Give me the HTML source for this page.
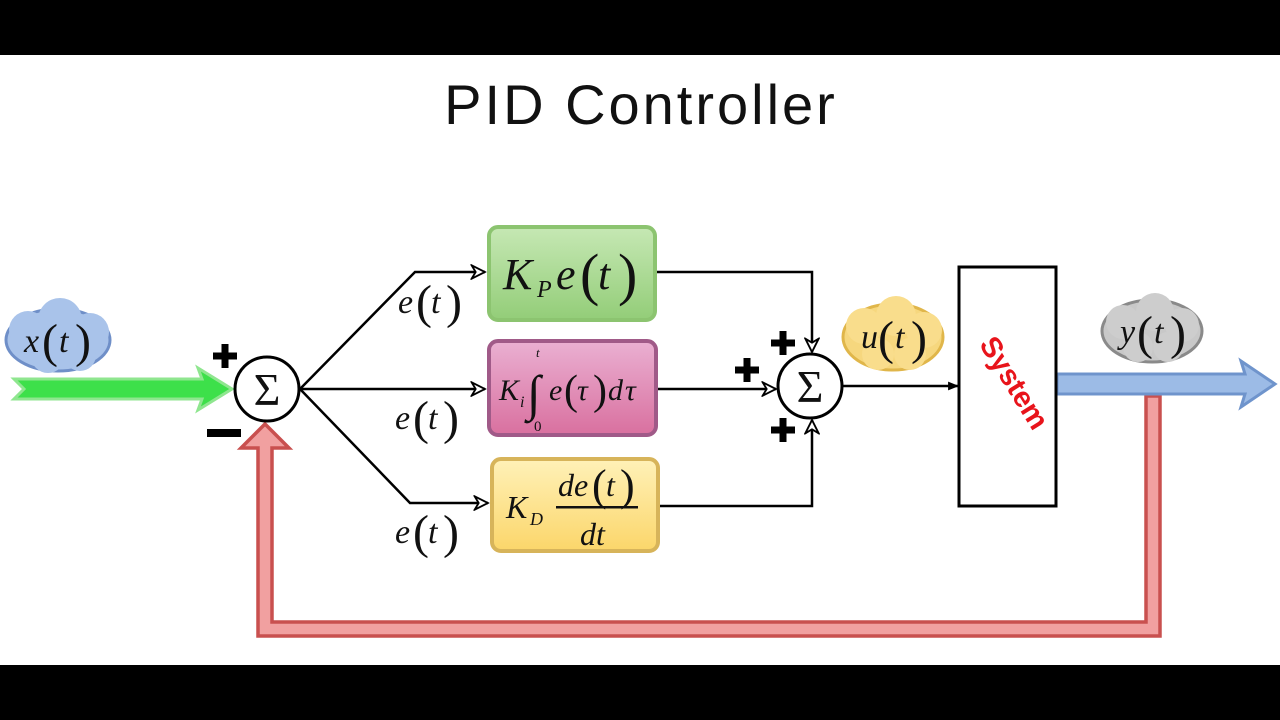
<!DOCTYPE html>
<html><head><meta charset="utf-8"><style>
html,body{margin:0;padding:0;background:#fff}
svg{display:block}
.m{font-family:"Liberation Serif",serif;font-style:italic;fill:#111}
.r{font-family:"Liberation Serif",serif;fill:#111}
</style></head><body>
<svg width="1280" height="720" viewBox="0 0 1280 720" xmlns="http://www.w3.org/2000/svg">
<defs>
<marker id="oa" viewBox="0 0 12 12" refX="11" refY="6" markerWidth="16" markerHeight="16" markerUnits="userSpaceOnUse" orient="auto"><path d="M1,1 L11,6 L1,11 L4,6 Z" fill="#fff" stroke="#000" stroke-width="1.4"/></marker>
<marker id="fa" viewBox="0 0 10 10" refX="9" refY="5" markerWidth="11" markerHeight="11" markerUnits="userSpaceOnUse" orient="auto"><path d="M0,1 L10,5 L0,9 Z" fill="#000"/></marker>
<linearGradient id="gg" x1="0" y1="0" x2="0" y2="1"><stop offset="0" stop-color="#c6e8b4"/><stop offset="1" stop-color="#93cd78"/></linearGradient>
<linearGradient id="gp" x1="0" y1="0" x2="0" y2="1"><stop offset="0" stop-color="#eab0d2"/><stop offset="1" stop-color="#d9709f"/></linearGradient>
<linearGradient id="gy" x1="0" y1="0" x2="0" y2="1"><stop offset="0" stop-color="#fff1b8"/><stop offset="1" stop-color="#fbd66a"/></linearGradient>
</defs>
<rect x="0" y="0" width="1280" height="55" fill="#000"/>
<rect x="0" y="665" width="1280" height="55" fill="#000"/>
<text x="641" y="124" text-anchor="middle" font-family="Liberation Sans,sans-serif" font-size="56" letter-spacing="3" fill="#111">PID Controller</text>

<!-- x(t) cloud -->
<g fill="#a9c3ea" stroke="#6f8fc8" stroke-width="3">
<ellipse cx="58" cy="340" rx="52" ry="31"/>
</g>
<g fill="#a9c3ea">
<circle cx="28" cy="330" r="19"/><circle cx="60" cy="320" r="22"/><circle cx="90" cy="332" r="19"/><circle cx="48" cy="356" r="17"/><circle cx="80" cy="355" r="16"/>
</g>
<text x="24" y="352" class="m" font-size="34">x</text><text x="42" y="357" class="r" font-size="48">(</text><text x="59" y="352" class="m" font-size="34">t</text><text x="75" y="357" class="r" font-size="48">)</text>

<!-- green arrow -->
<path d="M14,379 L202,379 L198,368 L232,389 L198,410 L202,399 L14,399 L24,389 Z" fill="#3de04a" stroke="#8fe68f" stroke-width="3"/>

<!-- red feedback -->
<path d="M1146,396 L1160,396 L1160,636 L258,636 L258,448 L241,448 L265,424 L289,448 L272,448 L272,622 L1146,622 Z" fill="#f1a0a0" stroke="#c9504f" stroke-width="3.5"/>

<!-- blue arrow -->
<path d="M1057,374 L1245,374 L1241,361 L1275,384 L1241,407 L1245,394 L1057,394 Z" fill="#9cbbe6" stroke="#6f94cc" stroke-width="3"/>

<!-- sum1 -->
<circle cx="267" cy="389" r="32" fill="#fff" stroke="#000" stroke-width="3"/>
<text x="267" y="405" text-anchor="middle" class="r" font-size="46">Σ</text>
<path d="M213,356 h24 M225,344 v24" stroke="#000" stroke-width="7"/>
<rect x="207" y="429" width="34" height="8" fill="#000"/>

<!-- branches -->
<g fill="none" stroke="#000" stroke-width="2.5">
<path d="M300,389 L415,272 L485,272" marker-end="url(#oa)"/>
<path d="M300,389 L485,389" marker-end="url(#oa)"/>
<path d="M300,389 L410,503 L488,503" marker-end="url(#oa)"/>
<path d="M655,272 L812,272 L812,352" marker-end="url(#oa)"/>
<path d="M656,389 L776,389" marker-end="url(#oa)"/>
<path d="M658,506 L812,506 L812,420" marker-end="url(#oa)"/>
<path d="M843,386 L958,386" marker-end="url(#fa)"/>
</g>
<g font-size="34">
<text x="398" y="313" class="m">e</text><text x="416" y="318" class="r" font-size="48">(</text><text x="431" y="313" class="m">t</text><text x="446" y="318" class="r" font-size="48">)</text>
<text x="395" y="429" class="m">e</text><text x="413" y="434" class="r" font-size="48">(</text><text x="428" y="429" class="m">t</text><text x="443" y="434" class="r" font-size="48">)</text>
<text x="395" y="543" class="m">e</text><text x="413" y="548" class="r" font-size="48">(</text><text x="428" y="543" class="m">t</text><text x="443" y="548" class="r" font-size="48">)</text>
</g>

<!-- boxes -->
<rect x="489" y="227" width="166" height="93" rx="9" fill="url(#gg)" stroke="#8cc470" stroke-width="4"/>
<text x="503" y="289" class="m" font-size="44">K</text><text x="537" y="297" class="m" font-size="24">P</text><text x="556" y="289" class="m" font-size="44">e</text><text x="580" y="294" class="r" font-size="58">(</text><text x="598" y="289" class="m" font-size="44">t</text><text x="618" y="294" class="r" font-size="58">)</text>

<rect x="489" y="341" width="167" height="94" rx="9" fill="url(#gp)" stroke="#a05a88" stroke-width="4"/>
<text x="499" y="400" class="m" font-size="30">K</text><text x="520" y="407" class="m" font-size="16">i</text>
<text x="527" y="410" class="r" font-size="50">∫</text>
<text x="536" y="357" class="m" font-size="13">t</text><text x="534" y="431" class="r" font-size="15">0</text>
<text x="549" y="400" class="m" font-size="30">e</text><text x="564" y="404" class="r" font-size="42">(</text><text x="577" y="400" class="m" font-size="30">τ</text><text x="593" y="404" class="r" font-size="42">)</text><text x="608" y="400" class="m" font-size="30">d</text><text x="625" y="400" class="m" font-size="30">τ</text>

<rect x="492" y="459" width="166" height="92" rx="9" fill="url(#gy)" stroke="#d7b45a" stroke-width="4"/>
<text x="506" y="518" class="m" font-size="32">K</text><text x="530" y="525" class="m" font-size="18">D</text>
<text x="558" y="496" class="m" font-size="32">de</text><text x="592" y="500" class="r" font-size="44">(</text><text x="606" y="496" class="m" font-size="32">t</text><text x="620" y="500" class="r" font-size="44">)</text>
<rect x="556" y="506" width="82" height="2.5" fill="#111"/>
<text x="580" y="545" class="m" font-size="32">dt</text>

<!-- sum2 -->
<circle cx="810" cy="386" r="32" fill="#fff" stroke="#000" stroke-width="3"/>
<text x="810" y="402" text-anchor="middle" class="r" font-size="46">Σ</text>
<path d="M771,343 h24 M783,331 v24 M735,370 h24 M747,358 v24 M771,430 h24 M783,418 v24" stroke="#000" stroke-width="7"/>

<!-- u(t) cloud -->
<g fill="#f6d77e" stroke="#e0b64a" stroke-width="3"><ellipse cx="893" cy="337" rx="50" ry="33"/></g>
<g fill="#f9dd8c"><circle cx="864" cy="326" r="18"/><circle cx="896" cy="316" r="20"/><circle cx="924" cy="330" r="18"/><circle cx="878" cy="354" r="16"/><circle cx="910" cy="354" r="16"/></g>
<text x="861" y="348" class="m" font-size="34">u</text><text x="878" y="354" class="r" font-size="48">(</text><text x="895" y="348" class="m" font-size="34">t</text><text x="911" y="354" class="r" font-size="48">)</text>

<!-- System -->
<rect x="959" y="267" width="97" height="239" fill="#fff" stroke="#000" stroke-width="3"/>
<text transform="translate(1006,388) rotate(58)" text-anchor="middle" font-family="Liberation Sans,sans-serif" font-weight="bold" font-size="29" fill="#e8141b">System</text>

<!-- y(t) cloud -->
<g fill="#c8c8c8" stroke="#8a8a8a" stroke-width="3"><ellipse cx="1152" cy="331" rx="50" ry="31"/></g>
<g fill="#cdcdcd"><circle cx="1123" cy="322" r="17"/><circle cx="1155" cy="312" r="19"/><circle cx="1182" cy="325" r="17"/><circle cx="1138" cy="347" r="15"/><circle cx="1168" cy="347" r="15"/></g>
<text x="1120" y="343" class="m" font-size="34">y</text><text x="1137" y="349" class="r" font-size="48">(</text><text x="1154" y="343" class="m" font-size="34">t</text><text x="1170" y="349" class="r" font-size="48">)</text>
</svg>
</body></html>
